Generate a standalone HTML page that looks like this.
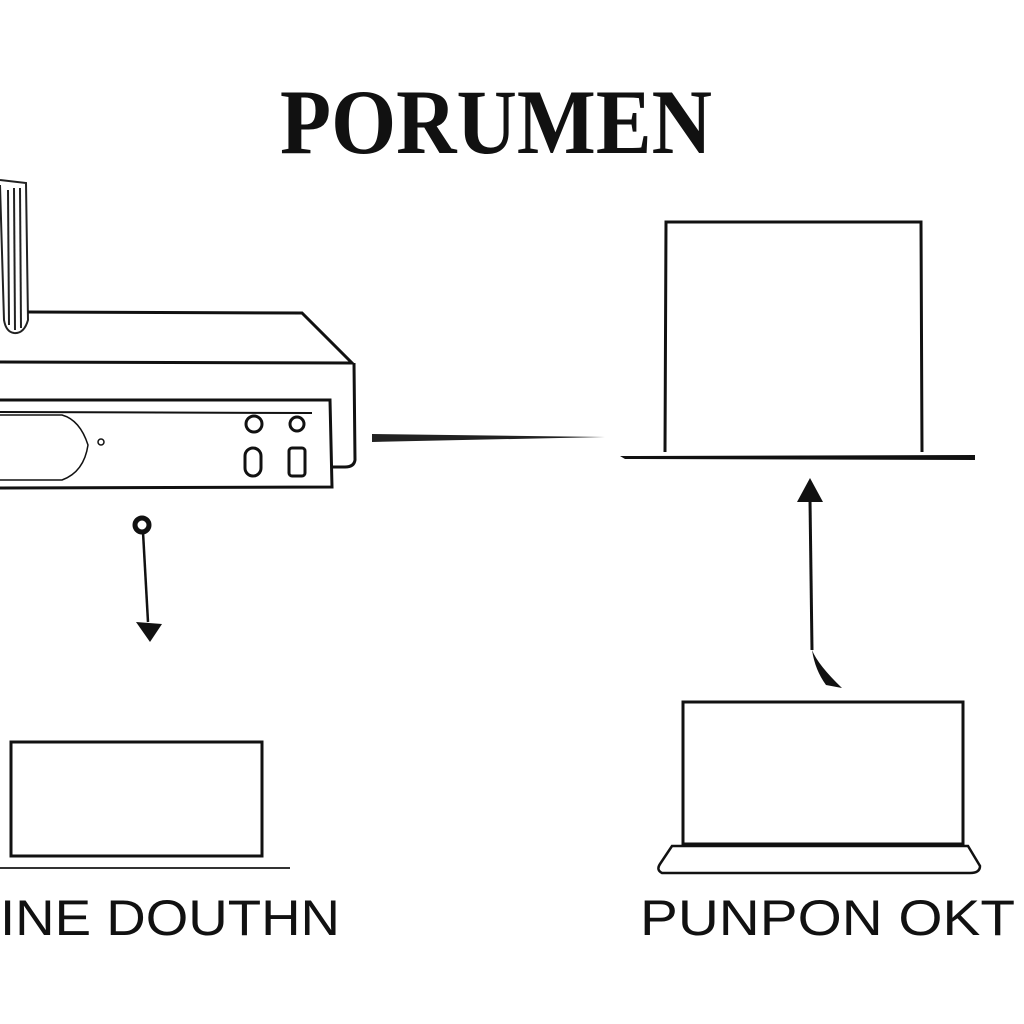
<!DOCTYPE html>
<html><head><style>
html,body{margin:0;padding:0;background:#fff;}
svg{display:block;}
text{font-family:"Liberation Serif",serif;}
</style></head><body>
<svg width="1024" height="1024" viewBox="0 0 1024 1024" xmlns="http://www.w3.org/2000/svg">
<rect width="1024" height="1024" fill="#fff"/>
<text x="496" y="153" font-size="92" font-weight="bold" text-anchor="middle" textLength="432" lengthAdjust="spacingAndGlyphs" fill="#111">PORUMEN</text>
<!-- antenna -->
<g stroke="#222" fill="none" stroke-width="2">
<path d="M0 180 L26 183 L28 320 Q24 334 14 333 Q6 332 4 320 L0 185"/>
<line x1="8" y1="190" x2="9" y2="325"/><line x1="14" y1="188" x2="15" y2="330"/><line x1="20" y1="188" x2="21" y2="328"/>
</g>
<!-- router -->
<g stroke="#111" fill="none" stroke-width="3">
<path d="M28 312 L302 313 L352 363 L0 362"/>
<path d="M354 363 L355 460 Q354 467 345 467 L333 467"/>
<path d="M0 400 L330 400 L332 487 L0 488"/>
<line x1="0" y1="412" x2="312" y2="413" stroke-width="2"/>
<path d="M0 415 L62 415 Q80 420 88 445 Q84 472 62 480 L0 480" stroke-width="1.5"/>
<circle cx="254" cy="424" r="8"/><circle cx="297" cy="424" r="7"/>
<rect x="245" y="448" width="16" height="28" rx="8"/>
<rect x="289" y="448" width="16" height="28" rx="3"/>
<circle cx="101" cy="442" r="3" stroke-width="1.5"/>
</g>
<!-- connector -->
<path d="M372 434 L605 437 L372 442 Z" fill="#222"/>
<!-- right box -->
<g stroke="#111" fill="none" stroke-width="3">
<path d="M665 452 L666 222 L921 222 L922 452"/>
</g>
<path d="M620 456 L975 455 L975 460 L625 459 Z" fill="#111"/>
<!-- up arrow -->
<line x1="810" y1="500" x2="812" y2="650" stroke="#111" stroke-width="3"/>
<path d="M812 650 Q818 665 842 688 L826 685 Q815 670 812 650" fill="#111"/>
<path d="M810 478 L797 502 L823 502 Z" fill="#111"/>
<!-- down arrow -->
<circle cx="142" cy="525" r="7" fill="#fff" stroke="#111" stroke-width="5"/>
<line x1="143" y1="532" x2="148" y2="622" stroke="#111" stroke-width="2.5"/>
<path d="M136 622 L162 624 L150 642 Z" fill="#111"/>
<!-- bottom left -->
<g stroke="#111" fill="none" stroke-width="3">
<rect x="11" y="742" width="251" height="114"/>
</g>
<line x1="0" y1="868" x2="290" y2="868" stroke="#333" stroke-width="2"/>
<text x="0" y="935" font-family="Liberation Sans" font-size="50" textLength="340" lengthAdjust="spacingAndGlyphs" fill="#111" style="font-family:'Liberation Sans',sans-serif">INE DOUTHN</text>
<!-- bottom right laptop -->
<g stroke="#111" fill="none" stroke-width="3">
<rect x="683" y="702" width="280" height="142"/>
<path d="M672 846 L968 846 L980 866 Q980 873 970 873 L662 873 Q656 870 660 864 Z" stroke-width="2.5"/>
</g>
<text x="640" y="935" font-size="50" textLength="375" lengthAdjust="spacingAndGlyphs" fill="#111" style="font-family:'Liberation Sans',sans-serif">PUNPON OKT</text>
</svg>
</body></html>
